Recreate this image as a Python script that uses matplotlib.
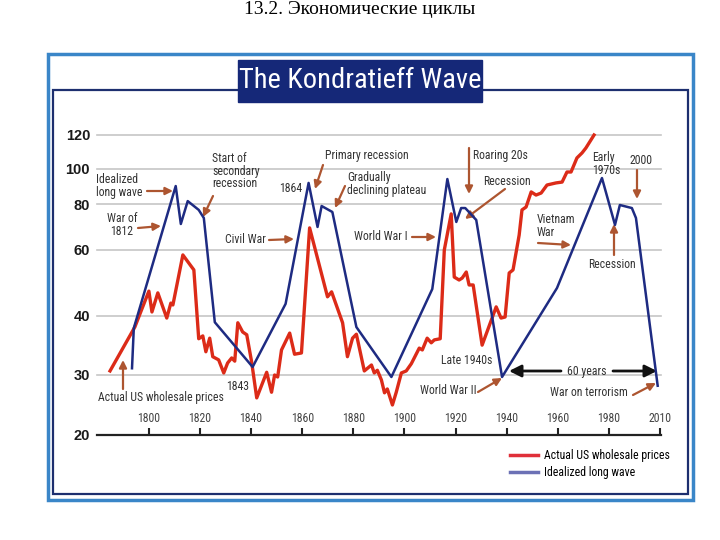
import numpy as np
import matplotlib.pyplot as plt
from matplotlib.patches import Rectangle
from matplotlib.lines import Line2D

# actual US wholesale prices (index)
red_years = [1784.8, 1794.5, 1800.0, 1801.2, 1803.5, 1807.0, 1808.6, 1809.4, 1813.3, 1816.8,
             1817.6, 1819.5, 1821.1, 1822.3, 1823.8, 1825.0, 1827.3, 1829.3, 1830.8, 1832.4,
             1833.6, 1834.8, 1836.7, 1838.3, 1840.2, 1842.2, 1846.1, 1848.0, 1849.2, 1850.4,
             1851.9, 1855.1, 1857.0, 1859.7, 1862.9, 1869.9, 1871.5, 1875.8, 1877.7, 1879.7,
             1881.2, 1884.3, 1887.1, 1888.2, 1889.4, 1891.0, 1892.2, 1893.3, 1895.3, 1896.8,
             1898.8, 1900.7, 1902.7, 1905.8, 1907.0, 1908.9, 1910.5, 1911.7, 1914.0, 1915.6,
             1918.3, 1919.5, 1921.4, 1922.6, 1924.2, 1925.3, 1926.9, 1930.4, 1935.9, 1937.8,
             1939.4, 1941.0, 1942.5, 1944.9, 1946.0, 1947.6, 1949.6, 1951.5, 1953.5, 1955.8,
             1959.3, 1961.7, 1963.6, 1965.2, 1967.5, 1969.5, 1971.0, 1974.2]
red_values = [30.6, 37.9, 46.6, 41, 46.1, 39.6, 43.3, 42.8, 58.2, 54,
              53.1, 35.8, 36.3, 33.6, 35.9, 32.8, 32.3, 30.3, 31.8, 32.6,
              32.1, 38.7, 37, 36.5, 32, 25.7, 30.4, 26.7, 30, 29.6,
              33.9, 36.8, 33.2, 33.4, 68.9, 45, 46.4, 38.7, 32.8, 35.9,
              36.6, 30.6, 31.5, 30.3, 30.7, 29, 26.6, 27.3, 24.5, 26.7,
              30.3, 30.6, 31.7, 34.2, 33.9, 35.9, 35.1, 35.6, 35.8, 60,
              75.2, 50.8, 49.9, 50.5, 52.4, 48.4, 48.4, 34.7, 42.3, 39.6,
              39.8, 52.1, 53.1, 65.9, 77.1, 78.5, 86.4, 84.7, 85.8, 90.3,
              91.5, 92, 98.1, 98.1, 106.1, 109, 111.9, 120]

# idealized long wave
blue_years = [1793.4, 1794.1, 1810.5, 1812.5, 1815.2, 1819.5, 1821.5, 1825.8, 1840.6, 1853.5,
              1862.5, 1866.0, 1867.6, 1871.8, 1881.2, 1894.9, 1910.9, 1916.8, 1920.3, 1922.2,
              1923.8, 1928.1, 1938.2, 1959.7, 1977.3, 1982.4, 1984.3, 1989.0, 1990.6, 1999.1]
blue_values = [31, 37.7, 89.7, 70.6, 81.5, 77.1, 73.3, 38.8, 31.2, 43.1,
               91.5, 69.3, 79, 76.1, 37.9, 29.6, 47.2, 93.8, 71.5, 78,
               78, 72.4, 29.6, 47.5, 94.4, 70.2, 79.5, 78, 73.3, 27.9]

tick_years = [1800, 1820, 1840, 1860, 1880, 1900, 1920, 1940, 1960, 1980, 2000]
tick_labels = ["1800", "1820", "1840", "1860", "1880", "1900", "1920", "1940", "1960", "1980", "2010"]
grid_vals = [20, 30, 40, 60, 80, 100, 120]
grid_pos = [0, 0.2, 0.3967, 0.6167, 0.77, 0.8867, 1.0]  # where each gridline sits on the axis

NARROW = ["Roboto Condensed", "Liberation Sans", "DejaVu Sans"]
TXT = "#333333"
ARROW = "#ad5530"

# piecewise-log y scale, so the gridlines land where the original puts them
lv = np.log(grid_vals)
ext_v = np.concatenate([[lv[0] - 1], lv, [lv[-1] + 1]])
ext_p = np.concatenate([[grid_pos[0] - (grid_pos[1] - grid_pos[0]) / (lv[1] - lv[0])], grid_pos,
                        [grid_pos[-1] + (grid_pos[-1] - grid_pos[-2]) / (lv[-1] - lv[-2])]])


def fwd(v):
    return np.interp(np.log(np.clip(v, 1e-6, None)), ext_v, ext_p)


def inv(p):
    return np.exp(np.interp(p, ext_p, ext_v))


def fp(x, y):
    # figure pixel (from top-left) -> figure fraction
    return (x / 720, 1 - y / 540)


fig = plt.figure(figsize=(7.2, 5.4), dpi=100)
fig.patch.set_facecolor("white")

# frame of the embedded picture
fig.add_artist(Rectangle(fp(48, 500), 645 / 720, 446 / 540, transform=fig.transFigure,
                         fill=False, ec="#3a86c8", lw=2.5, zorder=1))
fig.add_artist(Rectangle(fp(53, 494), 635 / 720, 404 / 540, transform=fig.transFigure,
                         fill=False, ec="#1d2f6f", lw=1.6, zorder=1))
fig.add_artist(Rectangle(fp(238, 102), 244 / 720, 42 / 540, transform=fig.transFigure,
                         fc="#152878", ec="#152878", lw=1, zorder=2))
fig.text(*fp(360, 81), "The Kondratieff Wave", color="white", fontsize=20.5, family=NARROW,
         ha="center", va="center", zorder=3)
fig.text(*fp(360, 9), "13.2. Экономические циклы", fontsize=14, family=["Liberation Serif", "DejaVu Serif"],
         ha="center", va="center")

ax = fig.add_axes([97 / 720, 105 / 540, 564 / 720, 300 / 540])
ax.set_yscale("function", functions=(fwd, inv))
ax.plot(red_years, red_values, color="#dc2b18", lw=2.4, clip_on=False, zorder=3)
ax.plot(blue_years, blue_values, color="#1e2b82", lw=1.8, clip_on=False, zorder=4)
ax.set_xlim(1779.7, 2000.4)
ax.set_ylim(20, 120)

for side in ("top", "right", "left"):
    ax.spines[side].set_visible(False)
ax.spines["bottom"].set_color("#222222")
ax.spines["bottom"].set_linewidth(1.6)

ax.set_yticks(grid_vals, [str(v) for v in grid_vals])
ax.yaxis.set_minor_locator(plt.NullLocator())
ax.tick_params(axis="y", length=0, pad=5, labelsize=10.5, labelcolor="#1a1a1a")
for lab in ax.get_yticklabels():
    lab.set_fontweight("bold")
    lab.set_family(["Liberation Sans", "DejaVu Sans"])
ax.yaxis.grid(True, color="#c6c6c6", lw=1.2)
for gl in ax.get_ygridlines():
    gl.set_clip_on(False)
ax.set_axisbelow(True)

ax.set_xticks(tick_years, tick_labels)
ax.tick_params(axis="x", direction="in", length=5, width=1.5, color="#222222",
               pad=-16.5, labelsize=8.5, labelcolor="#444444")
for lab in ax.get_xticklabels():
    lab.set_family(NARROW)

# text, x, y, ha, arrow tail, arrow head  (figure pixels)
notes = [
    ("Idealized\nlong wave", 96, 186, "left", (147, 191), (173, 191)),
    ("War of\n1812", 122, 225, "center", (138, 228), (161, 226)),
    ("Start of\nsecondary\nrecession", 212, 171, "left", (213, 196), (203, 217)),
    ("Civil War", 266, 239, "right", (269, 240), (294, 239)),
    ("1843", 238, 386, "center", None, None),
    ("Actual US wholesale prices", 98, 398, "left", (123, 389), (123, 360)),
    ("1864", 291, 188, "center", None, None),
    ("Primary recession", 325, 156, "left", (323, 165), (315, 189)),
    ("Gradually\ndeclining plateau", 347, 184, "left", (345, 186), (335, 208)),
    ("World War I", 408, 237, "right", (412, 237), (436, 237)),
    ("Roaring 20s", 473, 156, "left", (469, 148), (469, 194)),
    ("Recession", 507, 181, "center", (505, 189), (465, 219)),
    ("Vietnam\nWar", 537, 226, "left", (538, 243), (571, 245)),
    ("Early\n1970s", 592, 164, "left", None, None),
    ("2000", 641, 160, "center", (637, 170), (637, 199)),
    ("Recession", 612, 264, "center", (614, 255), (614, 224)),
    ("Late 1940s", 467, 361, "center", None, None),
    ("World War II", 448, 391, "center", (478, 392), (502, 378)),
    ("War on terrorism", 589, 392, "center", (633, 395), (656, 383)),
    ("60 years", 587, 371, "center", None, None),
]
for text, x, y, ha, tail, head in notes:
    fig.text(*fp(x, y), text, ha=ha, va="center", fontsize=8.5, family=NARROW, color=TXT,
             linespacing=0.95, zorder=5)
    if tail is not None:
        ax.annotate("", xy=fp(*head), xytext=fp(*tail), xycoords="figure fraction",
                    textcoords="figure fraction",
                    arrowprops=dict(arrowstyle="-|>", color=ARROW, lw=1.6, mutation_scale=11,
                                    shrinkA=0, shrinkB=0))

for tail, head in [((561, 371), (509, 371)), ((613, 371), (657, 371))]:
    ax.annotate("", xy=fp(*head), xytext=fp(*tail), xycoords="figure fraction",
                textcoords="figure fraction",
                arrowprops=dict(arrowstyle="-|>", color="#111111", lw=2, mutation_scale=18,
                                shrinkA=0, shrinkB=0))

handles = [Line2D([], [], color="#e0303a", lw=2.5), Line2D([], [], color="#6c71b5", lw=2.5)]
fig.legend(handles, ["Actual US wholesale prices", "Idealized long wave"], loc="upper left",
           bbox_to_anchor=fp(504, 443), frameon=False, borderpad=0, handlelength=2.4,
           handletextpad=0.45, labelspacing=0.35, prop={"family": NARROW, "size": 8.5})

fig.savefig("out.png", dpi=100)
plt.close(fig)
